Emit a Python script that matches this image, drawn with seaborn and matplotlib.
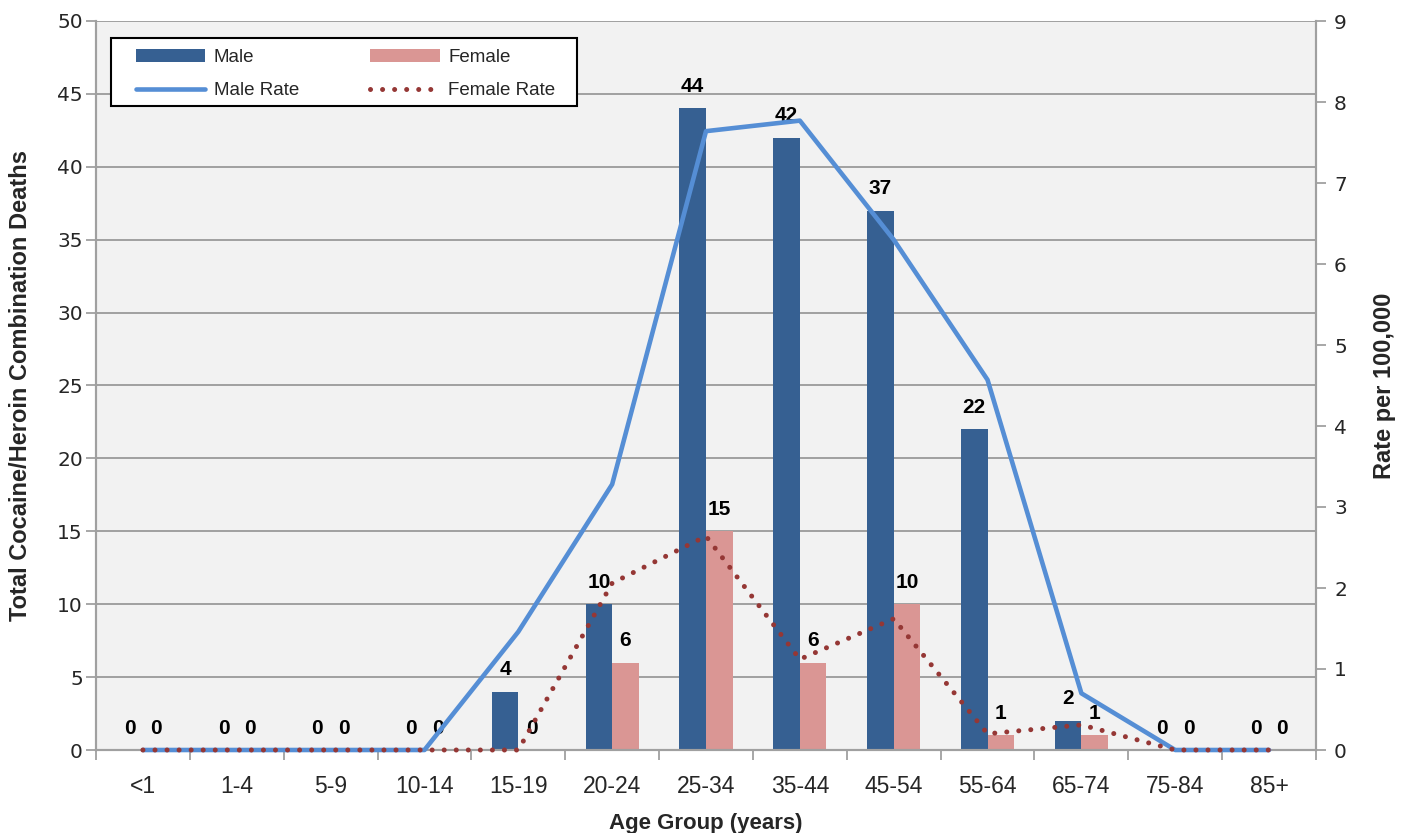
import numpy as np
import pandas as pd
import matplotlib
matplotlib.use("Agg")
import matplotlib.pyplot as plt
from matplotlib.patches import Rectangle, Patch
from matplotlib.lines import Line2D
import seaborn as sns

# ---- data ----
age_groups = ["<1", "1-4", "5-9", "10-14", "15-19", "20-24", "25-34",
              "35-44", "45-54", "55-64", "65-74", "75-84", "85+"]
male_deaths = [0, 0, 0, 0, 4, 10, 44, 42, 37, 22, 2, 0, 0]
female_deaths = [0, 0, 0, 0, 0, 6, 15, 6, 10, 1, 1, 0, 0]
male_rate = [0, 0, 0, 0, 1.46, 3.28, 7.64, 7.77, 6.30, 4.57, 0.70, 0, 0]
female_rate = [0, 0, 0, 0, 0, 2.06, 2.64, 1.12, 1.62, 0.20, 0.31, 0, 0]
left_ticks = list(range(0, 51, 5))
right_ticks = list(range(0, 10))

MALE_BAR = "#366092"
FEMALE_BAR = "#DA9694"
MALE_LINE = "#558ED5"
FEMALE_LINE = "#953735"
GRID = "#A0A0A0"
DOTS = (0, (0.01, 2.4))

sns.set_theme(style="white")
plt.rcParams["font.family"] = ["Liberation Sans", "DejaVu Sans"]

df = pd.DataFrame({
    "Age": age_groups * 2,
    "Sex": ["Male"] * len(age_groups) + ["Female"] * len(age_groups),
    "Deaths": male_deaths + female_deaths,
})

fig = plt.figure(figsize=(14.07, 8.33), dpi=100)
ax = fig.add_axes([96 / 1407, 83 / 833, 1220 / 1407, 729 / 833])
ax.set_facecolor("#F2F2F2")

sns.barplot(data=df, x="Age", y="Deaths", hue="Sex", order=age_groups,
            hue_order=["Male", "Female"], palette=[MALE_BAR, FEMALE_BAR],
            width=0.566, gap=0, saturation=1, legend=False, ax=ax,
            linewidth=0, zorder=2)

for cont in ax.containers:
    ax.bar_label(cont, fmt="%d", padding=9, fontsize=15, fontweight="bold",
                 color="black")

ax.set_xlim(-0.5, len(age_groups) - 0.5)
ax.set_ylim(0, 50)
ax.set_yticks(left_ticks)
ax.set_yticklabels([str(t) for t in left_ticks], family="DejaVu Sans",
                   fontsize=14.5)
ax.yaxis.grid(True, color=GRID, linewidth=1.4, zorder=0)
ax.set_axisbelow(True)

# category labels at centres, tick marks at category boundaries
ax.set_xticks(np.arange(len(age_groups)))
ax.set_xticklabels(age_groups, fontsize=16.5)
ax.set_xticks(np.arange(len(age_groups) + 1) - 0.5, minor=True)
ax.tick_params(axis="x", which="major", length=0, pad=18)
ax.tick_params(axis="x", which="minor", length=7, width=1.3, color=GRID,
               direction="out", bottom=True)
ax.tick_params(axis="y", which="major", length=7, width=1.3, color=GRID,
               direction="out", left=True, pad=2.5)

for side in ["left", "bottom", "right"]:
    ax.spines[side].set_color(GRID)
    ax.spines[side].set_linewidth(1.5)
ax.spines["top"].set_visible(False)

ax.set_xlabel("Age Group (years)", fontsize=16, fontweight="bold", labelpad=11)
ax.set_ylabel("Total Cocaine/Heroin Combination Deaths", fontsize=17,
              fontweight="bold", labelpad=18)

# ---- rates on secondary axis ----
ax2 = ax.twinx()
pos = np.arange(len(age_groups))
sns.lineplot(x=pos, y=male_rate, ax=ax2, color=MALE_LINE, linewidth=3.3,
             solid_capstyle="round", clip_on=False, zorder=3)
sns.lineplot(x=pos, y=female_rate, ax=ax2, color=FEMALE_LINE, linewidth=3.6,
             linestyle=DOTS, dash_capstyle="round",
             clip_on=False, zorder=4)
ax2.set_xlim(-0.5, len(age_groups) - 0.5)
ax2.set_ylim(0, 9)
ax2.set_yticks(right_ticks)
ax2.set_yticklabels([str(t) for t in right_ticks], family="DejaVu Sans",
                    fontsize=14.5)
ax2.tick_params(axis="y", which="major", length=7, width=1.3, color=GRID,
                direction="out", right=True, pad=6)
for side in ["left", "bottom", "right"]:
    ax2.spines[side].set_color(GRID)
    ax2.spines[side].set_linewidth(1.5)
ax2.spines["top"].set_visible(False)
ax2.set_ylabel("Rate per 100,000", fontsize=17, fontweight="bold",
               labelpad=19)
ax2.grid(False)

# ---- legend ----
frame = Rectangle((111 / 1407, 1 - 106 / 833), 466 / 1407, 68 / 833,
                  transform=fig.transFigure, facecolor="white",
                  edgecolor="black", linewidth=1.5, zorder=5)
fig.patches.append(frame)
handles = [
    Patch(facecolor=MALE_BAR, edgecolor="none"),
    Line2D([], [], color=MALE_LINE, linewidth=3.3, solid_capstyle="round"),
    Patch(facecolor=FEMALE_BAR, edgecolor="none"),
    Line2D([], [], color=FEMALE_LINE, linewidth=3.6,
           linestyle=DOTS, dash_capstyle="round"),
]
labels = ["Male", "Male Rate", "Female", "Female Rate"]
leg = fig.legend(handles, labels, ncol=2, frameon=False, fontsize=13.5,
                 loc="upper left",
                 bbox_to_anchor=(136 / 1407, 1 - 49 / 833),
                 borderpad=0, borderaxespad=0, handlelength=3.7,
                 handleheight=0.7, handletextpad=0.45, columnspacing=3.8,
                 labelspacing=0.85)
leg.set_zorder(6)

fig.savefig("out.png", dpi=100)
